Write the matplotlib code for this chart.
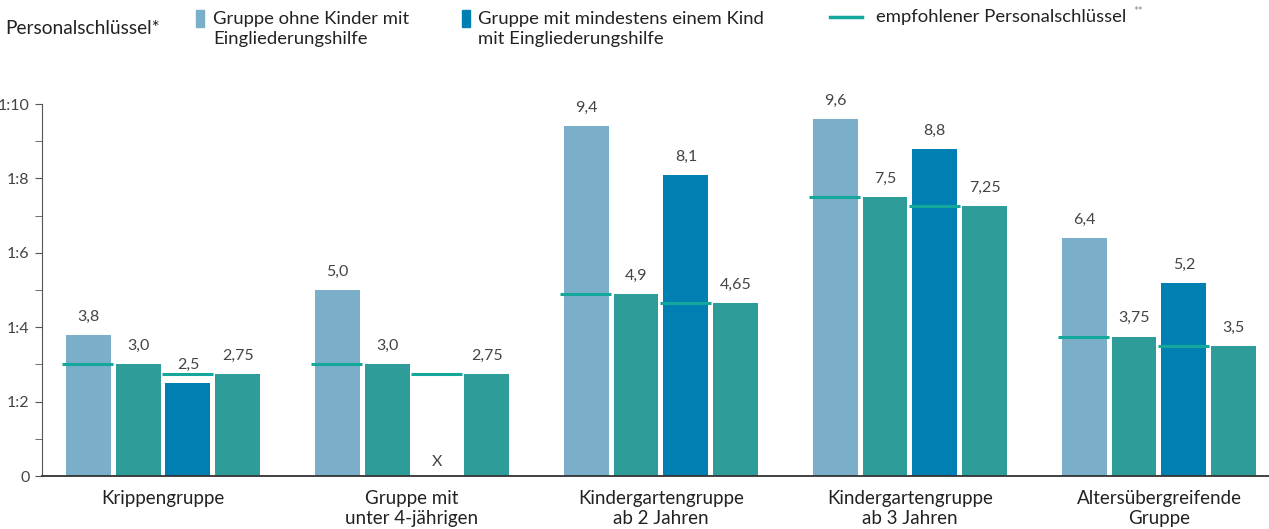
import matplotlib.pyplot as plt
import numpy as np

plt.rcParams['font.family'] = ['Lato', 'DejaVu Sans']

gruppen = ["Krippengruppe", "Gruppe mit\nunter 4-jährigen", "Kindergartengruppe\nab 2 Jahren",
           "Kindergartengruppe\nab 3 Jahren", "Altersübergreifende\nGruppe"]
ohne_kind = [3.8, 5.0, 9.4, 9.6, 6.4]
empf_ohne = [3.0, 3.0, 4.9, 7.5, 3.75]
mit_kind = [2.5, None, 8.1, 8.8, 5.2]
empf_mit = [2.75, 2.75, 4.65, 7.25, 3.5]
ytick_vals = [0, 2, 4, 6, 8, 10]
ytick_labels = ["0", "1:2", "1:4", "1:6", "1:8", "1:10"]

c_hell = "#7aaec9"
c_dunkel = "#0080b2"
c_empf = "#2e9c98"
c_linie = "#14a79c"
c_text = "#444444"

def fmt(v):
    s = f"{v:.2f}".rstrip("0")
    if s.endswith("."):
        s += "0"
    return s.replace(".", ",")

fig = plt.figure(figsize=(12.69, 5.29), dpi=100)
ax = fig.add_axes([42 / 1269, 53 / 529, 1 - 42 / 1269, 372 / 529])

x = np.arange(len(gruppen))
w = 0.18
ax.bar(x - 0.3, ohne_kind, w, color=c_hell)
ax.bar(x - 0.1, empf_ohne, w, color=c_empf)
mit_vals = [v if v is not None else 0 for v in mit_kind]
ax.bar(x + 0.1, mit_vals, w, color=c_dunkel)
ax.bar(x + 0.3, empf_mit, w, color=c_empf)

# Linien für empfohlenen Schlüssel
for i in range(len(gruppen)):
    ax.plot([x[i] - 0.405, x[i] - 0.2], [empf_ohne[i]] * 2, color=c_linie, lw=2.2,
            solid_capstyle="butt", zorder=3)
    ax.plot([x[i] - 0.005, x[i] + 0.2], [empf_mit[i]] * 2, color=c_linie, lw=2.2,
            solid_capstyle="butt", zorder=3)

lbl = dict(ha="center", va="bottom", fontsize=11.5, color=c_text,
           textcoords="offset points", annotation_clip=False)
for i in range(len(gruppen)):
    ax.annotate(fmt(ohne_kind[i]), (x[i] - 0.3, ohne_kind[i]), xytext=(0, 8), **lbl)
    ax.annotate(fmt(empf_ohne[i]), (x[i] - 0.1, empf_ohne[i]), xytext=(0, 8), **lbl)
    if mit_kind[i] is None:
        ax.annotate("X", (x[i] + 0.1, 0), xytext=(0, 5), **lbl)
    else:
        ax.annotate(fmt(mit_kind[i]), (x[i] + 0.1, mit_kind[i]), xytext=(0, 8), **lbl)
    ax.annotate(fmt(empf_mit[i]), (x[i] + 0.3, empf_mit[i]), xytext=(0, 8), **lbl)

ax.set_xlim(-0.486, 4.442)
ax.set_ylim(0, 10)
ax.set_yticks(ytick_vals)
ax.set_yticklabels(ytick_labels)
ax.set_yticks(range(11), minor=True)
ax.tick_params(axis="y", which="both", length=5, color="#555555", labelsize=11.5,
               labelcolor=c_text, pad=4)
ax.set_xticks(x)
ax.set_xticklabels(gruppen, fontsize=13.5, color="#222222", linespacing=1.2)
ax.tick_params(axis="x", length=0, pad=10)
for s in ["top", "right"]:
    ax.spines[s].set_visible(False)
ax.spines["left"].set_color("#555555")
ax.spines["bottom"].set_color("#333333")
ax.spines["bottom"].set_linewidth(1.3)

# Legende
fs_leg = 13.3
fig.text(5 / 1269, 1 - 28 / 529, "Personalschlüssel*", fontsize=13.8, color="#222222", va="center")
fig.patches.append(plt.Rectangle((196 / 1269, 1 - 27 / 529), 8 / 1269, 17 / 529,
                                 transform=fig.transFigure, color=c_hell))
fig.text(213 / 1269, 1 - 29 / 529, "Gruppe ohne Kinder mit\nEingliederungshilfe", fontsize=fs_leg,
         color="#222222", va="center", linespacing=1.3)
fig.patches.append(plt.Rectangle((462 / 1269, 1 - 27 / 529), 8 / 1269, 17 / 529,
                                 transform=fig.transFigure, color=c_dunkel))
fig.text(478 / 1269, 1 - 29 / 529, "Gruppe mit mindestens einem Kind\nmit Eingliederungshilfe",
         fontsize=fs_leg, color="#222222", va="center", linespacing=1.3)
fig.add_artist(plt.Line2D([830 / 1269, 862 / 1269], [1 - 17 / 529] * 2, color=c_linie, lw=2.5))
t_empf = fig.text(876 / 1269, 1 - 17 / 529, "empfohlener Personalschlüssel", fontsize=fs_leg,
                  color="#222222", va="center")
fig.text(1133 / 1269, 1 - 12 / 529, "**", fontsize=8, color="#888888", va="center")

fig.savefig("out.png", dpi=100)
